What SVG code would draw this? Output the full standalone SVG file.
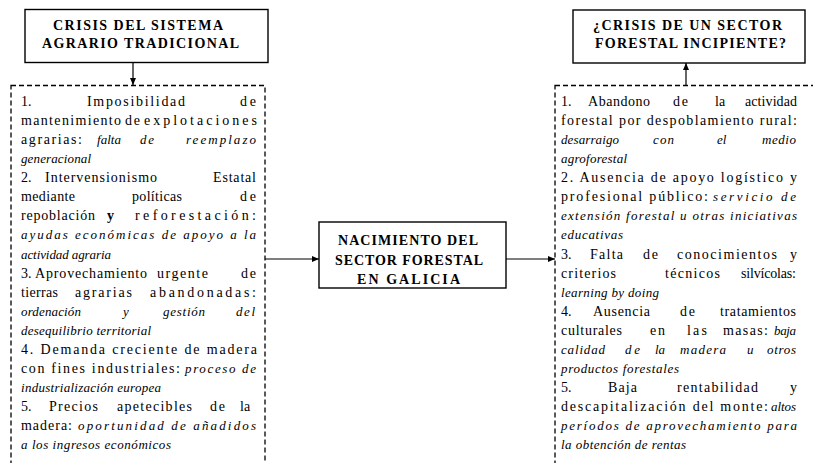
<svg xmlns="http://www.w3.org/2000/svg" width="813" height="463" viewBox="0 0 813 463" font-family="'Liberation Serif', Tinos, 'Noto Serif', 'DejaVu Serif', 'Times New Roman', serif">
<style>
.box{fill:#fff;stroke:#000;stroke-width:1.4}
.dash{fill:none;stroke:#000;stroke-width:1.3;stroke-dasharray:5 3}
.con{stroke:#000;stroke-width:1.2;fill:none}
text{font-family:'Liberation Serif',Tinos,'Noto Serif','DejaVu Serif','Times New Roman',serif;fill:#000}
.h{font-size:14px;font-weight:bold}
.r{font-size:14px}
.i{font-size:13px;font-style:italic}
.b{font-weight:bold}
</style>
<defs>
<marker id="ah" markerWidth="7" markerHeight="6" refX="7" refY="3" orient="auto" markerUnits="userSpaceOnUse">
<path d="M0,0 L7,3 L0,6 Z" fill="#000"/>
</marker>
</defs>
<rect x="0" y="0" width="813" height="463" fill="#fff"/>

<g id="connectors">
<line class="con" x1="133" y1="62" x2="133" y2="85" marker-end="url(#ah)"/>
<line class="con" x1="686" y1="86" x2="686" y2="63" marker-end="url(#ah)"/>
<line class="con" x1="265" y1="259" x2="319" y2="259" marker-end="url(#ah)"/>
<line class="con" x1="506" y1="259" x2="555" y2="259" marker-end="url(#ah)"/>
</g>

<g id="crisis-agrario">
<rect class="box" x="25" y="9.5" width="243" height="53"/>
<text class="h" x="53" y="30" textLength="170">CRISIS DEL SISTEMA</text>
<text class="h" x="42" y="48" textLength="197">AGRARIO TRADICIONAL</text>
</g>

<g id="crisis-forestal">
<rect class="box" x="573" y="10" width="232" height="53"/>
<text class="h" x="593" y="30" textLength="189">¿CRISIS DE UN SECTOR</text>
<text class="h" x="595" y="48" textLength="191">FORESTAL INCIPIENTE?</text>
</g>

<g id="nacimiento">
<rect class="box" x="319" y="222" width="187" height="66"/>
<text class="h" x="338" y="245" textLength="140">NACIMIENTO DEL</text>
<text class="h" x="335" y="265" textLength="148">SECTOR FORESTAL</text>
<text class="h" x="357" y="284" textLength="103">EN GALICIA</text>
</g>

<g id="causas">
<rect class="dash" x="11" y="85.5" width="254" height="400"/>
<text class="r" x="21" y="105.5">1.</text>
<text class="r" x="87" y="105.5" textLength="98">Imposibilidad</text>
<text class="r" x="240" y="105.5" textLength="16">de</text>
<text class="r" x="21" y="124.5" textLength="100">mantenimiento</text>
<text class="r" x="125" y="124.5" textLength="15">de</text>
<text class="r" x="144" y="124.5" textLength="113">explotaciones</text>
<text class="r" x="21" y="143.5" textLength="61">agrarias:</text>
<text class="i" x="97" y="143.5" textLength="24">falta</text>
<text class="i" x="140" y="143.5" textLength="14">de</text>
<text class="i" x="186" y="143.5" textLength="70">reemplazo</text>
<text class="i" x="21" y="163" textLength="70">generacional</text>
<text class="r" x="21" y="182">2.</text>
<text class="r" x="45" y="182" textLength="112">Intervensionismo</text>
<text class="r" x="213" y="182" textLength="43">Estatal</text>
<text class="r" x="21" y="201" textLength="54">mediante</text>
<text class="r" x="132" y="201" textLength="50">políticas</text>
<text class="r" x="240" y="201" textLength="16">de</text>
<text class="r" x="21" y="220" textLength="74">repoblación</text>
<text class="r b" x="107" y="220">y</text>
<text class="r" x="135" y="220" textLength="121">reforestación:</text>
<text class="i" x="21" y="239" textLength="235">ayudas económicas de apoyo a la</text>
<text class="i" x="21" y="258.5" textLength="90">actividad agraria</text>
<text class="r" x="21" y="277.5">3.</text>
<text class="r" x="35" y="277.5" textLength="112">Aprovechamiento</text>
<text class="r" x="157" y="277.5" textLength="51">urgente</text>
<text class="r" x="241" y="277.5" textLength="15">de</text>
<text class="r" x="21" y="296.5" textLength="37">tierras</text>
<text class="r" x="75" y="296.5" textLength="57">agrarias</text>
<text class="r" x="150" y="296.5" textLength="106">abandonadas:</text>
<text class="i" x="21" y="315.5" textLength="60">ordenación</text>
<text class="i" x="123" y="315.5">y</text>
<text class="i" x="163" y="315.5" textLength="42">gestión</text>
<text class="i" x="236" y="315.5" textLength="19">del</text>
<text class="i" x="21" y="334.5" textLength="130">desequilibrio territorial</text>
<text class="r" x="21" y="354" textLength="236">4. Demanda creciente de madera</text>
<text class="r" x="21" y="373" textLength="159">con fines industriales:</text>
<text class="i" x="185" y="373" textLength="71">proceso de</text>
<text class="i" x="21" y="392" textLength="140">industrialización europea</text>
<text class="r" x="21" y="411">5.</text>
<text class="r" x="49" y="411" textLength="49">Precios</text>
<text class="r" x="117" y="411" textLength="75">apetecibles</text>
<text class="r" x="210" y="411" textLength="15">de</text>
<text class="r" x="240" y="411">la</text>
<text class="r" x="21" y="430" textLength="51">madera:</text>
<text class="i" x="78" y="430" textLength="178">oportunidad de añadidos</text>
<text class="i" x="21" y="449" textLength="150">a los ingresos económicos</text>
</g>

<g id="problemas">
<rect class="dash" x="555" y="85.5" width="270" height="400"/>
<text class="r" x="561" y="105.5">1.</text>
<text class="r" x="588" y="105.5" textLength="62">Abandono</text>
<text class="r" x="673" y="105.5" textLength="15">de</text>
<text class="r" x="715" y="105.5">la</text>
<text class="r" x="745" y="105.5" textLength="52">actividad</text>
<text class="r" x="561" y="124.5" textLength="236">forestal por despoblamiento rural:</text>
<text class="i" x="561" y="143.5" textLength="58">desarraigo</text>
<text class="i" x="653" y="143.5" textLength="21">con</text>
<text class="i" x="717" y="143.5">el</text>
<text class="i" x="762" y="143.5" textLength="34">medio</text>
<text class="i" x="561" y="163" textLength="66">agroforestal</text>
<text class="r" x="561" y="182" textLength="236">2. Ausencia de apoyo logístico y</text>
<text class="r" x="561" y="201" textLength="147">profesional público:</text>
<text class="i" x="713" y="201" textLength="83">servicio de</text>
<text class="i" x="561" y="220" textLength="236">extensión forestal u otras iniciativas</text>
<text class="i" x="561" y="239" textLength="62">educativas</text>
<text class="r" x="561" y="258.5">3.</text>
<text class="r" x="590" y="258.5" textLength="33">Falta</text>
<text class="r" x="643" y="258.5" textLength="15">de</text>
<text class="r" x="677" y="258.5" textLength="100">conocimientos</text>
<text class="r" x="790" y="258.5">y</text>
<text class="r" x="561" y="277.5" textLength="55">criterios</text>
<text class="r" x="665" y="277.5" textLength="55">técnicos</text>
<text class="r" x="741" y="277.5" textLength="55">silvícolas:</text>
<text class="i" x="561" y="296.5" textLength="98">learning by doing</text>
<text class="r" x="561" y="315.5">4.</text>
<text class="r" x="593" y="315.5" textLength="57">Ausencia</text>
<text class="r" x="680" y="315.5" textLength="15">de</text>
<text class="r" x="720" y="315.5" textLength="76">tratamientos</text>
<text class="r" x="561" y="334.5" textLength="61">culturales</text>
<text class="r" x="650" y="334.5" textLength="15">en</text>
<text class="r" x="687" y="334.5" textLength="20">las</text>
<text class="r" x="723" y="334.5" textLength="45">masas:</text>
<text class="i" x="774" y="334.5" textLength="22">baja</text>
<text class="i" x="561" y="354" textLength="44">calidad</text>
<text class="i" x="625" y="354" textLength="15">de</text>
<text class="i" x="655" y="354">la</text>
<text class="i" x="680" y="354" textLength="46">madera</text>
<text class="i" x="747" y="354">u</text>
<text class="i" x="767" y="354" textLength="29">otros</text>
<text class="i" x="561" y="373" textLength="118">productos forestales</text>
<text class="r" x="561" y="392">5.</text>
<text class="r" x="608" y="392" textLength="29">Baja</text>
<text class="r" x="677" y="392" textLength="81">rentabilidad</text>
<text class="r" x="790" y="392">y</text>
<text class="r" x="561" y="411" textLength="207">descapitalización del monte:</text>
<text class="i" x="771" y="411" textLength="25">altos</text>
<text class="i" x="561" y="430" textLength="236">períodos de aprovechamiento para</text>
<text class="i" x="561" y="449" textLength="125">la obtención de rentas</text>
</g>
</svg>
